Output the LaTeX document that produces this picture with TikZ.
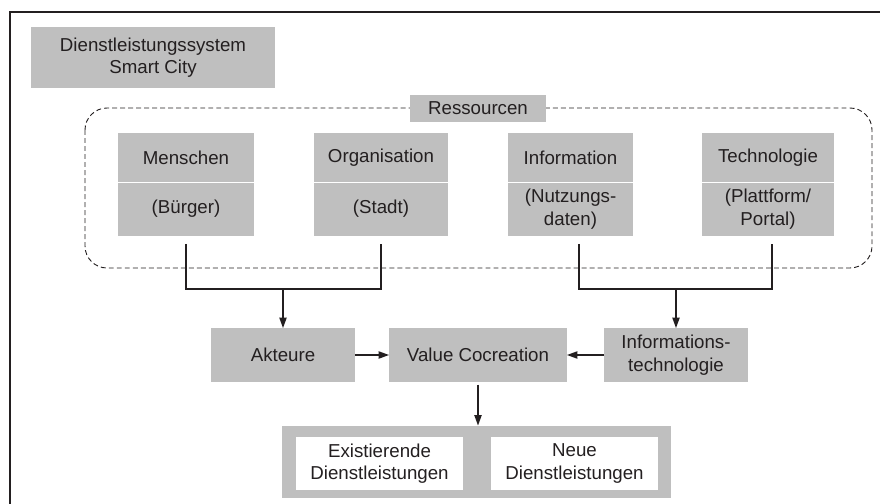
\documentclass[tikz,border=0pt]{standalone}
\usepackage{fontspec}
\setmainfont{Liberation Sans}
\usepackage{tikz}
\usetikzlibrary{positioning, arrows.meta}
\definecolor{boxgray}{HTML}{BFBFBF}
\definecolor{inkgray}{HTML}{231F20}

\begin{document}
\begin{tikzpicture}[x=0.025cm, y=-0.025cm,
    font=\fontsize{13.3}{16}\selectfont, text=inkgray,
    box/.style={fill=boxgray, align=center, inner sep=0pt},
    restop/.style={box, minimum height=1.225cm},
    resbot/.style={box, minimum height=1.325cm},
    whitebox/.style={fill=white, align=center, inner sep=0pt,
                     minimum width=4.175cm, minimum height=1.325cm},
    conn/.style={draw=inkgray, line width=1.3pt},
    arr/.style={conn, -{Triangle[length=7.5pt, width=5pt]}}]
  \useasboundingbox (0,0) rectangle (880,504);
  % frame, cut at the right and bottom edges
  \draw[inkgray, line width=1.6pt] (10,504) -- (10,12) -- (880,12);

  \node[box, minimum width=6.1cm, minimum height=1.525cm] (system) at (153,57.5)
    {Dienstleistungssystem\\Smart City};

  % Ressourcen
  \draw[inkgray, dash pattern=on 3.5pt off 2.2pt, line width=0.65pt, rounded corners=0.55cm]
    (85,108) rectangle (872,268);
  \node[box, minimum width=3.4cm, minimum height=0.675cm] (ressourcen) at (478,108.5) {Ressourcen};

  \node[restop, minimum width=3.4cm] (menschen) at (186,157.5) {Menschen};
  \node[resbot, minimum width=3.4cm, below=0pt of menschen] (buerger) {(Bürger)};
  \node[restop, minimum width=3.35cm] (organisation) at (381,157.5) {Organisation};
  \node[resbot, minimum width=3.35cm, below=0pt of organisation] (stadt) {(Stadt)};
  \node[restop, minimum width=3.125cm] (information) at (570.5,157.5) {Information};
  \node[resbot, minimum width=3.125cm, below=0pt of information] (daten) {(Nutzungs-\\daten)};
  \node[restop, minimum width=3.3cm] (technologie) at (768,157.5) {Technologie};
  \node[resbot, minimum width=3.3cm, below=0pt of technologie] (portal) {(Plattform/\\Portal)};
  \foreach \n in {menschen, organisation, information, technologie}
    \draw[white, line width=0.8pt] (\n.south west) -- (\n.south east);

  % middle row
  \node[box, minimum width=3.575cm, minimum height=1.325cm] (akteure) at (283,355) {Akteure};
  \node[box, minimum width=4.425cm, minimum height=1.325cm] (cocreation) at (478,355) {Value Cocreation};
  \node[box, minimum width=3.575cm, minimum height=1.325cm] (infotech) at (676,355)
    {Informations-\\technologie};

  \coordinate (joinleft) at (283,289);
  \coordinate (joinright) at (676,289);
  \draw[conn] ([yshift=-5.7pt]buerger.south) |- (joinleft) -| ([yshift=-5.7pt]stadt.south);
  \draw[conn] ([xshift=6pt, yshift=-5.7pt]daten.south) |- (joinright)
    -| ([xshift=3pt, yshift=-5.7pt]portal.south);
  \draw[arr] (joinleft) -- (akteure.north);
  \draw[arr] (joinright) -- (infotech.north);
  \draw[arr] (akteure.east) -- (cocreation.west);
  \draw[arr] (infotech.west) -- (cocreation.east);

  % Dienstleistungen
  \node[box, minimum width=9.725cm, minimum height=1.8cm] (ergebnis) at (476.5,462) {};
  \node[whitebox] (existierend) at (379.5,463.5) {Existierende\\Dienstleistungen};
  \node[whitebox] (neu) at (574.5,463.5) {Neue\\Dienstleistungen};
  \draw[arr] ([yshift=-2pt]cocreation.south) -- (cocreation.south |- ergebnis.north);
\end{tikzpicture}
\end{document}
